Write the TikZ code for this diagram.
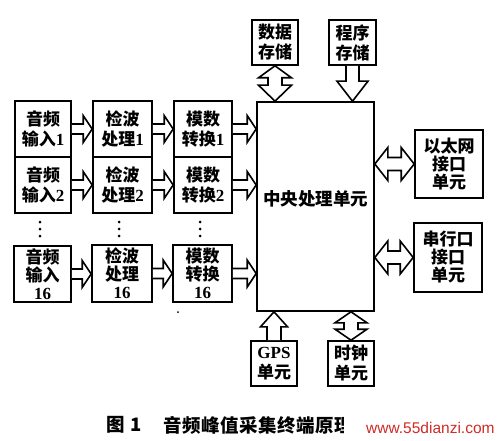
\documentclass[tikz,border=0pt]{standalone}
\usepackage{fontspec}
\setmainfont{Liberation Serif}
\newfontfamily\cjkfont{Noto Sans CJK SC}
\newfontfamily\wmfont{Liberation Sans}
\usetikzlibrary{calc}
\newcommand\cj{\cjkfont\bfseries}
% right hollow arrow from #1.east to #2.west at the height of #1
\newcommand\rarr[2]{\draw[harrow] let \p1=(#1.east),\p2=(#2.west) in
  (\x1,\y1+5pt) -- (\x2-9pt,\y1+5pt) -- (\x2-9pt,\y1+13.5pt) -- (\x2,\y1)
  -- (\x2-9pt,\y1-13.5pt) -- (\x2-9pt,\y1-5pt) -- (\x1,\y1-5pt);}
% horizontal double arrow from #1.east to #2.west at height of #2
\newcommand\hdarr[2]{\draw[harrow] let \p1=(#1.east),\p2=(#2.west) in
  (\x1,\y2) -- (\x1+13pt,\y2+16.5pt) -- (\x1+13pt,\y2+6.5pt) -- (\x2-13pt,\y2+6.5pt)
  -- (\x2-13pt,\y2+16.5pt) -- (\x2,\y2) -- (\x2-13pt,\y2-16.5pt) -- (\x2-13pt,\y2-6.5pt)
  -- (\x1+13pt,\y2-6.5pt) -- (\x1+13pt,\y2-16.5pt) -- cycle;}
% vertical double arrow: top point, bottom point, top head, bottom head, head half, shaft half
\newcommand\vdarr[6]{\draw[harrow] let \p1=(#1),\p2=(#2) in
  (\x1,\y1) -- (\x1+#5,\y1-#3) -- (\x1+#6,\y1-#3) -- (\x1+#6,\y2+#4) -- (\x1+#5,\y2+#4)
  -- (\x1,\y2) -- (\x1-#5,\y2+#4) -- (\x1-#6,\y2+#4) -- (\x1-#6,\y1-#3) -- (\x1-#5,\y1-#3) -- cycle;}
\tikzset{
  box/.style={draw, line width=1.6pt, inner sep=0pt, align=center,
    font=\fontsize{17}{20}\selectfont\bfseries},
  tbox/.style={box, font=\fontsize{17}{18}\selectfont\bfseries},
  harrow/.style={draw, line width=1.6pt, line join=miter, fill=white},
}
\begin{document}
\begin{tikzpicture}[x=1pt,y=-1pt]
\useasboundingbox (0,0) rectangle (500,441);
% left column
\node[box, minimum width=56pt, minimum height=56pt] (in1) at (43,129) {{\cj 音频}\\{\cj 输入}1};
\node[box, minimum width=56pt, minimum height=56pt] (in2) at (43,185) {{\cj 音频}\\{\cj 输入}2};
\node[tbox, minimum width=57pt, minimum height=56pt] (in16) at (42.5,274) {{\cj 音频}\\{\cj 输入}\\16};
\node[box, minimum width=59pt, minimum height=56pt] (jb1) at (122.5,129) {{\cj 检波}\\{\cj 处理}1};
\node[box, minimum width=59pt, minimum height=56pt] (jb2) at (122.5,185) {{\cj 检波}\\{\cj 处理}2};
\node[tbox, minimum width=60pt, minimum height=57pt] (jb16) at (122,273.5) {{\cj 检波}\\{\cj 处理}\\16};
\node[box, minimum width=58pt, minimum height=56pt] (ms1) at (203,129) {{\cj 模数}\\{\cj 转换}1};
\node[box, minimum width=58pt, minimum height=56pt] (ms2) at (203,185) {{\cj 模数}\\{\cj 转换}2};
\node[tbox, minimum width=59pt, minimum height=57pt] (ms16) at (202.5,273.5) {{\cj 模数}\\{\cj 转换}\\16};
% central
\node[box, minimum width=117pt, minimum height=209pt] (cpu) at (315.5,206.5) {};
\node[font=\fontsize{17.5}{20}\selectfont\cj, inner sep=0pt] (cputxt) at (315.5,199) {中央处理单元};
% top
\node[box, minimum width=46pt, minimum height=45pt] (data) at (275,42.5) {{\cj 数据}\\{\cj 存储}};
\node[box, minimum width=47pt, minimum height=45pt] (prog) at (352.5,42.5) {{\cj 程序}\\{\cj 存储}};
% right
\node[tbox, minimum width=68pt, minimum height=68pt] (eth) at (449,164) {{\cj 以太网}\\{\cj 接口}\\{\cj 单元}};
\node[tbox, minimum width=68pt, minimum height=69pt] (ser) at (448,257.5) {{\cj 串行口}\\{\cj 接口}\\{\cj 单元}};
% bottom
\node[box, minimum width=46pt, minimum height=45pt] (gps) at (274,363.5) {GPS\\{\cj 单元}};
\node[box, minimum width=46pt, minimum height=45pt] (clk) at (351,363.5) {{\cj 时钟}\\{\cj 单元}};
% arrows
\rarr{in1}{jb1}
\rarr{in2}{jb2}
\rarr{in16}{jb16}
\rarr{jb1}{ms1}
\rarr{jb2}{ms2}
\rarr{jb16}{ms16}
\rarr{ms1}{cpu}
\rarr{ms2}{cpu}
\rarr{ms16}{cpu}
\hdarr{cpu}{eth}
\hdarr{cpu}{ser}
\vdarr{data.south}{data.south |- cpu.north}{12pt}{16pt}{16.5pt}{7pt}
\vdarr{clk.north |- cpu.south}{clk.north}{11pt}{11pt}{16pt}{7pt}
% program -> cpu (down)
\draw[harrow] let \p1=(prog.south),\p2=(prog.south |- cpu.north) in
  (\x1-6.5pt,\y1) -- (\x1-6.5pt,\y2+20pt) -- (\x1-15.5pt,\y2+20pt) -- (\x1,\y2)
  -- (\x1+15.5pt,\y2+20pt) -- (\x1+6.5pt,\y2+20pt) -- (\x1+6.5pt,\y1);
% gps -> cpu (up)
\draw[harrow] let \p1=(gps.north),\p2=(gps.north |- cpu.south) in
  (\x1-7pt,\y1) -- (\x1-7pt,\y2-15pt) -- (\x1-13.5pt,\y2-15pt) -- (\x1,\y2)
  -- (\x1+13.5pt,\y2-15pt) -- (\x1+7pt,\y2-15pt) -- (\x1+7pt,\y1);
% ellipsis dots
\foreach \xx in {40,119,200}{
  \foreach \yy in {222,229,236}{\fill (\xx,\yy) circle (1.5pt);}
}
\fill (178,312) circle (1pt);
% caption
\node[anchor=west, inner sep=0pt, font=\fontsize{18.5}{20}\selectfont\cj] (cap1) at (106,425) {图\hspace{6pt}1};
\node[anchor=west, inner sep=0pt, font=\fontsize{18.5}{20}\selectfont\cj\addfontfeature{LetterSpace=3}] (cap2) at (163,425) {音频峰值采集终端原理图};
\fill[white] (344,412) rectangle (500,441);
\node[anchor=west, inner sep=0pt, text={rgb,255:red,205;green,45;blue,40}, font=\fontsize{15.5}{18}\selectfont\wmfont] (wm) at (366,428) {www.55dianzi.com};
\end{tikzpicture}
\end{document}
